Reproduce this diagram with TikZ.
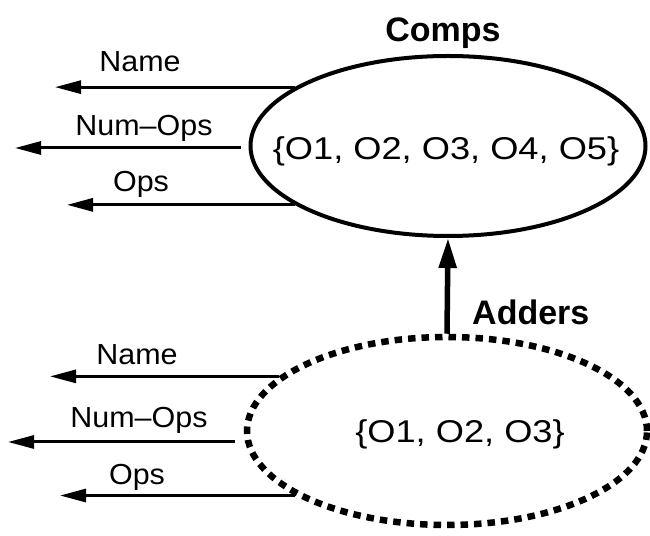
\documentclass[tikz,border=0pt]{standalone}
\usepackage{fontspec}
\setmainfont{Liberation Sans}
\newfontfamily\widefont[FakeStretch=1.15]{Liberation Sans}
\newfontfamily\attrfont[FakeStretch=1.05]{Liberation Sans}
\usetikzlibrary{shapes.geometric,arrows.meta}

\begin{document}
\begin{tikzpicture}[x=1pt,y=1pt,
  attrlabel/.style={font=\attrfont\fontsize{29}{32}\selectfont, anchor=base, inner sep=0pt},
  settext/.style={font=\widefont\fontsize{31.5}{34}\selectfont, anchor=base, inner sep=0pt},
  classname/.style={font=\bfseries\fontsize{34}{38}\selectfont, anchor=base, inner sep=0pt},
  classset/.style={ellipse, draw, inner sep=0pt},
  solidset/.style={classset, line width=4pt},
  derivedset/.style={classset, line width=6.5pt, dash pattern=on 7.5pt off 6pt},
  outarrow/.style={-{Triangle[length=26pt,width=13pt]}, line width=3pt},
  subarrow/.style={-{Triangle[length=30pt,width=17pt]}, line width=5.5pt},
]
\useasboundingbox (0,0) rectangle (650,535);

% the two class extents
\node[solidset, minimum width=395pt, minimum height=180pt] (comps) at (448,389) {};
\node[derivedset, minimum width=400pt, minimum height=188pt] (adders) at (447,104) {};

% member sets
\node[settext] (compsset) at (446,375) {\{O1, O2, O3, O4, O5\}};
\node[settext] (addersset) at (460,92) {\{O1, O2, O3\}};

% class names
\node[classname] (compsname) at (443,493) {Comps};
\node[classname, anchor=base west] (addersname) at (472,210) {Adders};

% free ends of the attribute arrows
\coordinate (tA) at (55,0);
\coordinate (tB) at (15,0);
\coordinate (tC) at (67,0);
\coordinate (bA) at (50,0);
\coordinate (bB) at (8,0);
\coordinate (bC) at (60,0);
\coordinate (compsNumStart) at ([xshift=-8pt,yshift=-2pt]comps.west);
\coordinate (addersNumStart) at ([xshift=-9pt,yshift=-11pt]adders.west);

% attributes of Comps
\draw[outarrow] (comps.159) -- (comps.159 -| tA);
\draw[outarrow] (compsNumStart) -- (compsNumStart -| tB);
\draw[outarrow] (comps.201) -- (comps.201 -| tC);
\node[attrlabel] (compsNameLbl) at (140,463) {Name};
\node[attrlabel] (compsNumLbl) at (144,399) {Num\textendash Ops};
\node[attrlabel] (compsOpsLbl) at (141,343) {Ops};

% attributes of Adders
\draw[outarrow] (adders.162) -- (adders.162 -| bA);
\draw[outarrow] (addersNumStart) -- (addersNumStart -| bB);
\draw[outarrow] (adders.203) -- (adders.203 -| bC);
\node[attrlabel] (addersNameLbl) at (137,170) {Name};
\node[attrlabel] (addersNumLbl) at (139,107) {Num\textendash Ops};
\node[attrlabel] (addersOpsLbl) at (137,50) {Ops};

% subclass link
\draw[subarrow] (adders.north) -- (comps.south);
\end{tikzpicture}
\end{document}
